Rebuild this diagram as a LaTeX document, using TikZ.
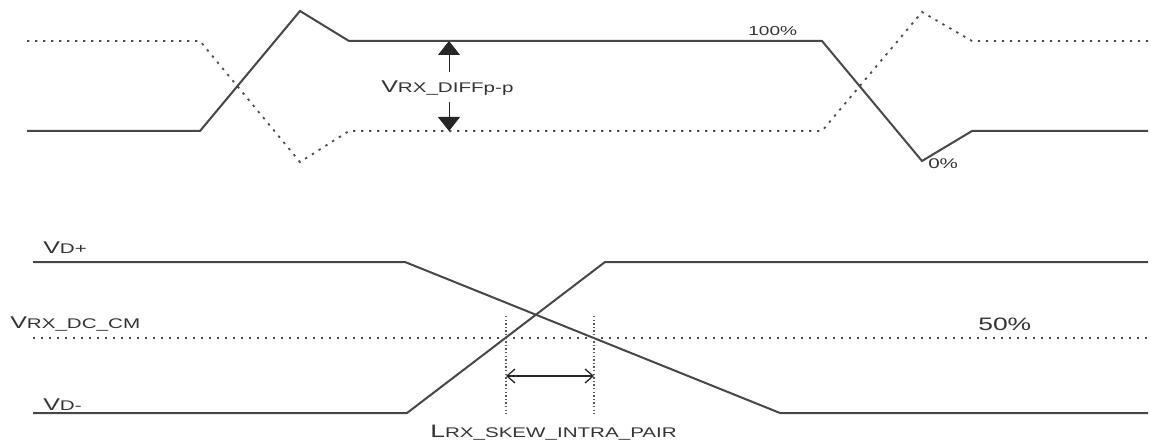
\documentclass[tikz,border=0pt]{standalone}
\usepackage{fontspec}
\setmainfont{Liberation Sans}
\usetikzlibrary{arrows.meta}

% 大写主字母 + 小号下标
\newcommand{\bigV}[1]{{\fontsize{17}{17}\selectfont #1}}
\newcommand{\subtx}[1]{{\fontsize{14}{14}\selectfont #1}}

\begin{document}
\begin{tikzpicture}[>=stealth, x=1pt, y=-1pt,
  wave/.style={line width=2pt, draw=black!72, line join=miter},
  dotwave/.style={line width=1.8pt, draw=black!70, dash pattern=on 2.4pt off 5.6pt},
  fineguide/.style={line width=1.1pt, draw=black!65, dash pattern=on 1.3pt off 2.3pt},
  lbl/.style={inner sep=0pt, text=black!80, xscale=1.47, anchor=base west}]

\useasboundingbox (0,0) rectangle (1151,441);

% 上半部分: 差分信号 (实线与点线)
\def\hi{41}
\def\lo{131}
\draw[wave] (27,\lo) -- (200,\lo) -- (300,11) -- (349,\hi) -- (822,\hi)
  -- (922,161) -- (972,\lo) -- (1148,\lo);
\draw[dotwave] (27,\hi) -- (200,\hi) -- (300,162) -- (349,\lo) -- (822,\lo)
  -- (922,12) -- (972,\hi) -- (1148,\hi);

% 幅度标注
\node[lbl] (diff) at (381,93) {\bigV{V}\subtx{RX\_DIFFp-p}};
\coordinate (ampTop) at (449,\hi);
\coordinate (ampBot) at (449,\lo);
\draw[-{Triangle[width=22pt,length=14pt]}, line width=1pt, black!85]
  (449,72) -- (ampTop);
\draw[-{Triangle[width=22pt,length=14pt]}, line width=1pt, black!85]
  (449,102) -- (ampBot);

\node[lbl] (full) at (748,36) {\fontsize{13}{13}\selectfont 100\%};
\node[lbl] (zero) at (928,168) {\fontsize{14}{14}\selectfont 0\%};

% 下半部分: D+ / D- 及共模电平
\def\ph{262}
\def\pl{413}
\def\cm{338}
\draw[wave] (33,\ph) -- (405,\ph) -- (780,\pl) -- (1148,\pl);
\draw[wave] (33,\pl) -- (407,\pl) -- (605,\ph) -- (1148,\ph);
\draw[dotwave] (33,\cm) -- (1148,\cm);

\node[lbl] (dplus) at (43,253) {\bigV{V}\subtx{D+}};
\node[lbl] (vcm) at (10,328) {\bigV{V}\subtx{RX\_DC\_CM}};
\node[lbl] (dminus) at (43,410) {\bigV{V}\subtx{D-}};
\node[lbl] (half) at (978,330) {\fontsize{18}{18}\selectfont 50\%};

% 对内偏斜
\coordinate (skewA) at (506,316);
\coordinate (skewB) at (594,316);
\draw[fineguide] (skewA) -- (506,414);
\draw[fineguide] (skewB) -- (594,414);
\draw[{Straight Barb[length=8pt,width=14pt]}-{Straight Barb[length=8pt,width=14pt]},
  line width=1.3pt, black!85] (506,376) -- (594,376);
\node[lbl] (skew) at (430,437) {{\fontsize{18}{18}\selectfont L}\subtx{RX\_SKEW\_INTRA\_PAIR}};

\end{tikzpicture}
\end{document}
